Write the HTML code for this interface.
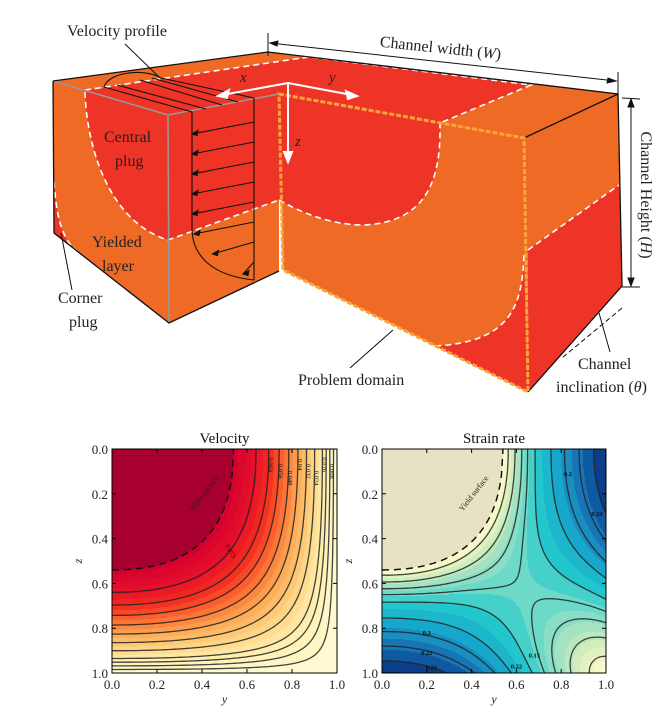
<!DOCTYPE html>
<html><head><meta charset="utf-8">
<style>
html,body{margin:0;padding:0;background:#fff;}
svg{display:block;font-family:"Liberation Serif",serif;}
</style></head>
<body>
<svg id="fig" width="663" height="708" viewBox="0 0 663 708" xmlns="http://www.w3.org/2000/svg">
<g id="diagram">
  <polygon points="53,81 268,52 618,94 524,138 279,94 168,115" fill="#ef6a25"/>
  <polygon points="85,90.5 309,57 531,85 440,123 279,94 168,115" fill="#ee3426"/>
  <polygon points="53,81 168,115 169,323 54,233" fill="#ef6a25"/>
  <path d="M85,91 C87,150 110,222 168,240 L168,115 Z" fill="#ee3426"/>
  <path d="M54,182 C57,222 63,240 78,252 L54,233 Z" fill="#ee3426"/>
  <polygon points="168,115 279,94 279,271 169,323" fill="#ef6a25"/>
  <polygon points="168,115 279,94 279,200 168,240" fill="#ee3426"/>
  <polygon points="279,94 524,138 528,392 283,270" fill="#ef6a25"/>
  <path d="M279,94 L440,123 C441,175 430,222 364,225 C330,225 300,212 279,200 Z" fill="#ee3426"/>
  <path d="M524,255 C522,305 512,342 435,346 L528,392 Z" fill="#ee3426"/>
  <polygon points="524,138 618,94 622,286 528,392" fill="#ef6a25"/>
  <polygon points="528,250 619,185 622,286 528,392" fill="#ee3426"/>
  <g fill="none" stroke="#fff" stroke-width="1.6" stroke-dasharray="6,4">
    <path d="M85,90 L309,57 L531,85 L440,123"/>
    <path d="M85,92 C87,150 110,222 168,240 L279,200"/>
    <path d="M54,182 C57,222 63,240 78,252"/>
    <path d="M279,200 C300,212 330,225 364,225 C430,222 441,175 440,123"/>
    <path d="M524,255 C522,305 512,342 435,346"/>
    <path d="M528,250 L619,185"/>
  </g>
  <g fill="none" stroke="#999" stroke-width="1.5">
    <path d="M53,81 L168,115 L279,94 M168,115 L169,323"/>
  </g>
  <g fill="none" stroke="#111" stroke-width="1.3">
    <path d="M53,81 L268,52 L618,94 L622,286 L528,392 M524,138 L618,94 M53,81 L54,233 L169,323 L279,271"/>
  </g>
  <path d="M279,94 L524,138 L528,392 L283,270 Z" fill="none" stroke="#f9a53c" stroke-width="3" stroke-dasharray="5,2"/>
  <g fill="none" stroke="#111" stroke-width="1.1">
    <path d="M254,98 L254,280"/>
    <path d="M192,112 L192,228 C192,258 215,276 254,280"/>
    <path d="M104,87 C108,72 145,68 161,78"/>
    <path d="M104,87 L192,112 M161,78 L254,98"/>
    <path d="M117,85 L206,109 M140,80 L222,105 M152,78 L238,102"/>
    <g id="arrows"></g>
  </g>
  <g stroke="#fff" stroke-width="2" fill="#fff">
    <path d="M288,83 L222,95 M288,83 L352,95 M288,83 L288,158" fill="none"/>
    <polygon points="218,96 229,90 227,98"/>
    <polygon points="357,96 346,91 348,99"/>
    <polygon points="288,162 284,152 292,152"/>
  </g>
  <text x="240" y="82" font-size="15" font-style="italic" fill="#222">x</text>
  <text x="329" y="82" font-size="15" font-style="italic" fill="#222">y</text>
  <text x="295" y="146" font-size="15" font-style="italic" fill="#222">z</text>
  <g stroke="#111" stroke-width="1" fill="#111">
    <path d="M268,33 L268,56 M618,72 L618,98 M270,43 L616,81 M622,98 L640,99 M622,287 L640,287 M631,99 L631,286" fill="none"/>
    <polygon points="270,43 278,41 277,46"/><polygon points="616,81 608,78 607,83"/>
    <polygon points="631,99 628,107 634,107"/><polygon points="631,286 628,278 634,278"/>
    <path d="M72,290 L61,233 M125,44 L160,78 M350,368 L393,330 M610,352 L599,313" fill="none"/>
    <path d="M622,308 L562,358" fill="none" stroke-dasharray="5,3"/>
  </g>
  <g font-size="16" fill="#222">
    <text x="67" y="36">Velocity profile</text>
    <text x="440" y="53" text-anchor="middle" transform="rotate(6 440 53)">Channel width (<tspan font-style="italic">W</tspan>)</text>
    <text x="641" y="195" text-anchor="middle" transform="rotate(90 641 195)">Channel Height (<tspan font-style="italic">H</tspan>)</text>
    <text x="104" y="142">Central</text>
    <text x="115" y="166">plug</text>
    <text x="92" y="247">Yielded</text>
    <text x="102" y="271">layer</text>
    <text x="58" y="303">Corner</text>
    <text x="69" y="327">plug</text>
    <text x="298" y="385">Problem domain</text>
    <text x="578" y="369">Channel</text>
    <text x="556" y="392">inclination (<tspan font-style="italic">θ</tspan>)</text>
  </g>
</g>
<g id="velPlot"></g>
<g id="strPlot"></g>
</svg>
<script>
// ---- data ----
const U0 = 0.1167;                 // velocity scale
const profileExponent = 2.2;
const yieldRadius = 0.54;          // yield surface intercept on axes
const velLevels = [0.073,0.064,0.056,0.048,0.040,0.032,0.024,0.016,0.012,0.008,0.004];
const velLabelTexts = ["0.064","0.056","0.048","0.04","0.032","0.024","0.016","0.008"];
const velLabelLevels = [0.064,0.056,0.048,0.040,0.032,0.024,0.016,0.008];
const strainLevels = [0.04,0.08,0.11,0.13,0.15,0.18,0.2,0.22,0.24];
const strainLabelTexts = ["0.2","0.22","0.24","0.24","0.2","0.22","0.15"];
const tickValues = [0.0,0.2,0.4,0.6,0.8,1.0];
const tickLabels = ["0.0","0.2","0.4","0.6","0.8","1.0"];
const velStops = [[0,'#fffbd8'],[0.15,'#fff0b2'],[0.3,'#fed585'],[0.45,'#fdab55'],[0.6,'#fc6a30'],[0.72,'#f53020'],[0.85,'#e8102a'],[1,'#d2002e']];
const strStops = [[0,'#fdfbd2'],[0.12,'#f4f7c6'],[0.25,'#d6eebc'],[0.38,'#a2e2c2'],[0.5,'#68d8c8'],[0.6,'#22c8cc'],[0.72,'#18a8cc'],[0.83,'#1878b8'],[0.92,'#0c4c98'],[1,'#0a2a70']];

const NS = 'http://www.w3.org/2000/svg';
const P = profileExponent;
const UY = U0*(1-Math.pow(yieldRadius,P));
function uRaw(y,z){return U0*(1-Math.pow(y,P))*(1-Math.pow(z,P));}
function uVel(y,z){return Math.min(uRaw(y,z),UY);}
function sRate(y,z){
  const u=uRaw(y,z);
  if(u>=UY) return 0;
  const uy=-P*U0*Math.pow(y,P-1)*(1-Math.pow(z,P));
  const uz=-P*U0*Math.pow(z,P-1)*(1-Math.pow(y,P));
  return Math.sqrt(uy*uy+uz*uz)*(1-Math.exp(-(UY-u)/0.008));
}
function hex(c){return [parseInt(c.slice(1,3),16),parseInt(c.slice(3,5),16),parseInt(c.slice(5,7),16)];}
function cmap(stops,t){
  t=Math.max(0,Math.min(1,t));
  for(let i=1;i<stops.length;i++){
    if(t<=stops[i][0]){
      const a=hex(stops[i-1][1]),b=hex(stops[i][1]),f=(t-stops[i-1][0])/(stops[i][0]-stops[i-1][0]);
      return 'rgb('+a.map((v,k)=>Math.round(v+(b[k]-v)*f)).join(',')+')';
    }
  }
  return stops[stops.length-1][1];
}
function mk(tag,attrs,parent){const e=document.createElementNS(NS,tag);for(const k in attrs)e.setAttribute(k,attrs[k]);parent.appendChild(e);return e;}

(function(){
  const g=document.getElementById('arrows');
  for(let k=0;k<8;k++){
    const y=122+k*20, ly=y+12;
    let lx=192;
    if(ly>228){const t=(ly-228)/52; lx=192+62*Math.pow(t,1.6);}
    const p=mk('path',{d:'M254,'+y+' L'+lx.toFixed(1)+','+ly},g);
    
    
    const h=mk('polygon',{points:lx+','+ly+' '+(lx+6)+','+(ly-3.5)+' '+(lx+5)+','+(ly+1.5),fill:'#111'},g);
    
    
  }
})();

function marching(f,level,N,px,pz){
  let d='';
  const v=[];
  for(let j=0;j<=N;j++){v[j]=[];for(let i=0;i<=N;i++)v[j][i]=f(i/N,j/N);}
  function ip(a,b,va,vb){const t=(level-va)/(vb-va);return [a[0]+(b[0]-a[0])*t,a[1]+(b[1]-a[1])*t];}
  for(let j=0;j<N;j++)for(let i=0;i<N;i++){
    const c=[[i/N,j/N],[(i+1)/N,j/N],[(i+1)/N,(j+1)/N],[i/N,(j+1)/N]];
    const val=[v[j][i],v[j][i+1],v[j+1][i+1],v[j+1][i]];
    const pts=[];
    for(let e=0;e<4;e++){const a=e,b=(e+1)%4;if((val[a]>=level)!==(val[b]>=level))pts.push(ip(c[a],c[b],val[a],val[b]));}
    for(let k=0;k+1<pts.length;k+=2)d+='M'+px(pts[k][0]).toFixed(1)+','+pz(pts[k][1]).toFixed(1)+'L'+px(pts[k+1][0]).toFixed(1)+','+pz(pts[k+1][1]).toFixed(1);
  }
  return d;
}

function drawPlot(gid,L,T,W,H,field,bandStep,stops,tmax,plugColor,isPlug,levels,title,labelsFn){
  const g=document.getElementById(gid);
  const px=y=>L+y*W, pz=z=>T+z*H;
  const cells=mk('g',{},g);
  
  
  for(let r=0;r<H;r++){
    const z=(r+0.5)/H;
    let start=0,prev=null,prevC=null;
    for(let c=0;c<=W;c++){
      let key=null,col=null;
      if(c<W){
        const y=(c+0.5)/W;
        if(isPlug(y,z)){key='p';col=plugColor;}
        else{const b=Math.floor(field(y,z)/bandStep);key=b;col=cmap(stops,((b+0.5)*bandStep)/tmax);}
      }
      if(key!==prev){
        if(prev!==null){
          const rc=mk('rect',{x:L+start,y:T+r,width:c-start,height:1.05,fill:prevC},cells);
          
          
        }
        start=c;prev=key;prevC=col;
      }
    }
  }
  const lines=mk('g',{fill:'none',stroke:'#222','stroke-width':1.3,'stroke-opacity':0.85},g);
  
  
  levels.forEach(lv=>{
    const p=mk('path',{d:marching(field,lv,110,px,pz)},lines);
    
    
  });
  const c=1-Math.pow(yieldRadius,P);
  let d='';
  for(let k=0;k<=80;k++){
    const y=yieldRadius*k/80;
    const z=Math.pow(Math.max(0,1-c/(1-Math.pow(y,P))),1/P);
    d+=(k?'L':'M')+px(y).toFixed(1)+','+pz(z).toFixed(1);
  }
  const ys=mk('path',{d:d,fill:'none',stroke:'#111','stroke-width':1.5,'stroke-dasharray':'7,5'},g);
  
  
  const yl=mk('text',{x:px(0.36),y:pz(0.28),'font-size':8,fill:'#222',transform:'rotate(-52 '+px(0.36)+' '+pz(0.28)+')'},g);
  yl.textContent='Yield surface';
  
  
  labelsFn(g,px,pz);
  const fr=mk('rect',{x:L,y:T,width:W,height:H,fill:'none',stroke:'#000','stroke-width':1},g);
  
  
  tickValues.forEach((v,i)=>{
    const tk=mk('path',{d:'M'+px(v)+','+T+'v4M'+px(v)+','+(T+H)+'v-4M'+L+','+pz(v)+'h4M'+(L+W)+','+pz(v)+'h-4',stroke:'#000','stroke-width':1},g);
    
    
    const tx=mk('text',{x:px(v),y:T+H+16,'font-size':13,'text-anchor':'middle',fill:'#222'},g);
    tx.textContent=tickLabels[i];
    
    
    const tz=mk('text',{x:L-4,y:pz(v)+5,'font-size':13,'text-anchor':'end',fill:'#222'},g);
    tz.textContent=tickLabels[i];
    
    
  });
  const tt=mk('text',{x:L+W/2,y:T-6,'font-size':15,'text-anchor':'middle',fill:'#111'},g);
  tt.textContent=title;
  
  
  const xl=mk('text',{x:L+W/2,y:T+H+30,'font-size':12,'text-anchor':'middle','font-style':'italic',fill:'#222'},g);
  xl.textContent='y';
  
  
  const zl=mk('text',{x:L-30,y:T+H/2,'font-size':12,'text-anchor':'middle','font-style':'italic',fill:'#222',transform:'rotate(-90 '+(L-30)+' '+(T+H/2)+')'},g);
  zl.textContent='z';
  
  
}
function solveY(f,lv,z){let a=0,b=1;for(let k=0;k<40;k++){const m=(a+b)/2;if(f(m,z)>lv)a=m;else b=m;}return (a+b)/2;}

drawPlot('velPlot',112,449,225,224,uVel,0.004,velStops,UY,'#a8002e',(y,z)=>uRaw(y,z)>=UY,velLevels,'Velocity',
 function(g,px,pz){
  velLabelLevels.forEach((lv,i)=>{
    const z=0.07+0.03*(i%3);
    const y=solveY(uRaw,lv,z);
    const t=mk('text',{x:px(y),y:pz(z),'font-size':6.5,'text-anchor':'middle',fill:'#111',transform:'rotate(90 '+px(y)+' '+pz(z)+')'},g);
    t.textContent=velLabelTexts[i];
    
    
  });
  const z2=0.46,y2=solveY(uRaw,0.073,z2);
  const t=mk('text',{x:px(y2),y:pz(z2),'font-size':6.5,'text-anchor':'middle',fill:'#111',transform:'rotate(60 '+px(y2)+' '+pz(z2)+')'},g);
  t.textContent='0.073';
  
  
 });

drawPlot('strPlot',382,449,224,224,sRate,0.015,strStops,0.26,'#e6e2c3',(y,z)=>uRaw(y,z)>=UY,strainLevels,'Strain rate',
 function(g,px,pz){
  const spots=[[0.2,0.2,0.83],[0.22,0.2,0.92],[0.24,0.22,0.985],[0.24,0.96,0.3],[0.2,0.83,0.12],[0.22,0.6,0.98],[0.15,0.68,0.93]];
  spots.forEach((s,i)=>{
    const t=mk('text',{x:px(s[1]),y:pz(s[2]),'font-size':6.5,'text-anchor':'middle',fill:'#111','font-weight':'bold'},g);
    t.textContent=strainLabelTexts[i];
    
    
  });
 });
</script>
</body></html>
